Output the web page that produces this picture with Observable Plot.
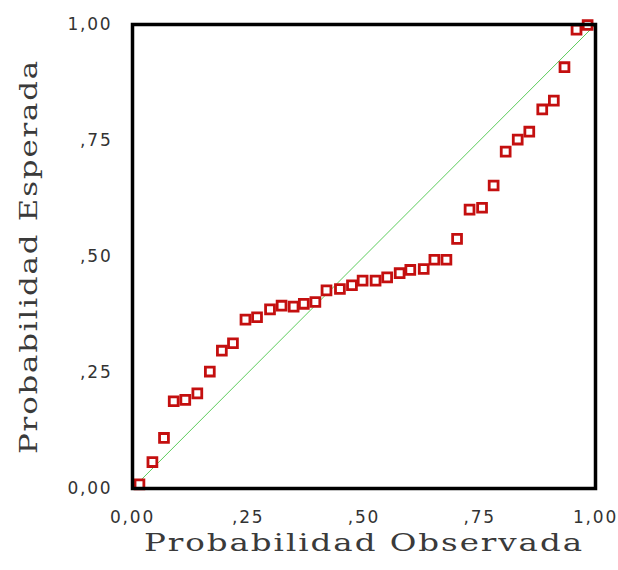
<!DOCTYPE html>
<html>
<head>
<meta charset="utf-8">
<script src="https://cdn.jsdelivr.net/npm/d3@7"></script>
<script src="https://cdn.jsdelivr.net/npm/@observablehq/plot@0.6"></script>
<style>
  html, body { margin: 0; padding: 0; background: #fff; }
  #chart svg { display: block; }
</style>
</head>
<body>
<div id="chart"></div>
<script>
// Observed cumulative probability (x) and expected cumulative probability (y)
const observed = [0.015, 0.043, 0.068, 0.089, 0.114, 0.140, 0.167, 0.193, 0.217, 0.244,
  0.269, 0.297, 0.322, 0.348, 0.370, 0.395, 0.419, 0.448, 0.474, 0.497,
  0.525, 0.550, 0.577, 0.600, 0.629, 0.652, 0.678, 0.701, 0.728, 0.755,
  0.780, 0.806, 0.832, 0.857, 0.885, 0.910, 0.933, 0.959, 0.983];
const expected = [0.009, 0.057, 0.109, 0.188, 0.191, 0.205, 0.252, 0.297, 0.313, 0.364,
  0.369, 0.386, 0.394, 0.392, 0.398, 0.402, 0.427, 0.430, 0.438, 0.448,
  0.448, 0.455, 0.464, 0.471, 0.473, 0.493, 0.493, 0.538, 0.601, 0.605,
  0.653, 0.726, 0.752, 0.769, 0.817, 0.836, 0.908, 0.989, 0.999];
const tickValues = [0, 0.25, 0.5, 0.75, 1];
const tickLabels = ["0,00", ",25", ",50", ",75", "1,00"];
const xTitle = "Probabilidad Observada";
const yTitle = "Probabilidad Esperada";
const diagonal = [[0, 0], [1, 1]];

const points = observed.map((x, i) => ({x, y: expected[i]}));
const fmt = d => tickLabels[tickValues.indexOf(d)];

const chart = Plot.plot({
  width: 618,
  height: 570,
  marginLeft: 132,
  marginRight: 23,
  marginTop: 24,
  marginBottom: 82,
  style: {background: "#fff", fontFamily: "DejaVu Sans"},
  x: {domain: [0, 1]},
  y: {domain: [0, 1]},
  marks: [
    Plot.line(diagonal, {x: d => d[0], y: d => d[1], stroke: "#5ccc5c", strokeWidth: 1}),
    Plot.dot(points, {x: "x", y: "y", symbol: "square", r: 5, stroke: "#c40f0f", strokeWidth: 2.8, fill: "#fff"}),
    Plot.frame({stroke: "#000", strokeWidth: 3.5}),
    Plot.axisX(tickValues, {tickSize: 0, tickPadding: 22, tickFormat: fmt, fill: "#333", label: null}),
    Plot.axisY(tickValues, {tickSize: 0, tickPadding: 20, tickFormat: fmt, fill: "#333", label: null}),
    Plot.text([xTitle], {frameAnchor: "bottom", dy: 62, textAnchor: "middle", text: d => d, fontFamily: "DejaVu Serif", fontSize: 25, fill: "#3a3a3a", className: "xtitle"}),
    Plot.text([yTitle], {frameAnchor: "left", dx: -104, rotate: -90, textAnchor: "middle", text: d => d, fontFamily: "DejaVu Serif", fontSize: 25, fill: "#3a3a3a", className: "ytitle"})
  ]
});
const svg = d3.select(chart);
svg.selectAll('g[aria-label="x-axis tick label"] text, g[aria-label="y-axis tick label"] text')
  .style("font-family", "DejaVu Sans")
  .style("font-size", "17px")
  .style("letter-spacing", "1.8px");
svg.selectAll(".xtitle text, .ytitle text").style("letter-spacing", "1.5px");
svg.selectAll(".xtitle text").attr("textLength", 440).attr("lengthAdjust", "spacingAndGlyphs");
svg.selectAll(".ytitle text").attr("textLength", 395).attr("lengthAdjust", "spacingAndGlyphs");
document.getElementById("chart").appendChild(chart);
</script>
</body>
</html>
